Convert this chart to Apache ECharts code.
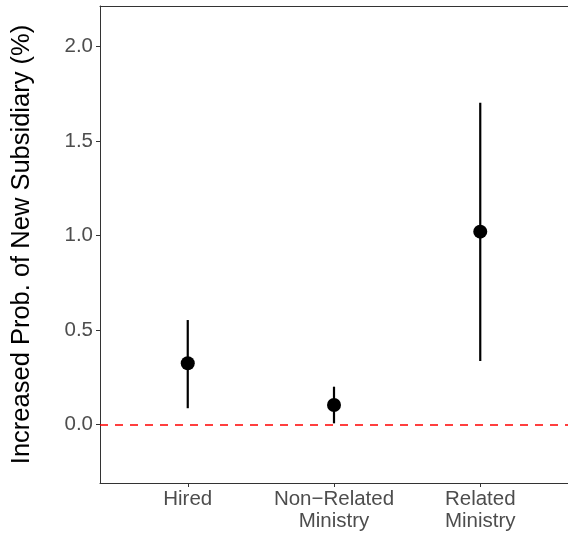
<!DOCTYPE html>
<html>
<head>
<meta charset="utf-8">
<script src="https://cdn.jsdelivr.net/npm/echarts@6/dist/echarts.min.js"></script>
<style>
html,body{margin:0;padding:0;background:#fff;}
#chart{width:568px;height:533px;}
</style>
</head>
<body>
<div id="chart"></div>
<script>
var categories = ['Hired', 'Non\u2212Related\nMinistry', 'Related\nMinistry'];
var estimates = [0.323, 0.102, 1.02];
var lowerCI = [0.085, 0.005, 0.335];
var upperCI = [0.552, 0.199, 1.703];
var yTicks = [0, 0.5, 1.0, 1.5, 2.0];
var yTitle = 'Increased Prob. of New Subsidiary (%)';

var pos = categories.map(function (c, i) { return i + 1; });
var pointData = estimates.map(function (v, i) { return [pos[i], v]; });
var barData = estimates.map(function (v, i) { return [pos[i], lowerCI[i], upperCI[i]]; });

var font = 'Liberation Sans, Arial, Helvetica, sans-serif';
var chart = echarts.init(document.getElementById('chart'), null, {renderer: 'canvas'});
chart.setOption({
  animation: false,
  backgroundColor: '#ffffff',
  grid: {left: 100, right: 0, top: 6, bottom: 50, containLabel: false},
  xAxis: [{
    type: 'value', min: 0.4, max: 3.6, position: 'bottom',
    splitLine: {show: false},
    axisLine: {show: true, onZero: false, lineStyle: {color: '#333333', width: 1}},
    axisTick: {show: true, length: 4, customValues: pos, lineStyle: {color: '#333333'}},
    axisLabel: {
      customValues: pos, color: '#4D4D4D', fontSize: 20.5, fontFamily: font,
      lineHeight: 22, align: 'center', margin: 5,
      formatter: function (v) { return categories[Math.round(v) - 1] || ''; }
    }
  }, {
    type: 'value', min: 0.4, max: 3.6, position: 'top',
    splitLine: {show: false},
    axisLine: {show: true, onZero: false, lineStyle: {color: '#333333', width: 1}},
    axisTick: {show: false}, axisLabel: {show: false}
  }],
  yAxis: {
    type: 'value', min: -0.311, max: 2.215,
    splitLine: {show: false},
    axisLine: {show: true, onZero: false, lineStyle: {color: '#333333', width: 1}},
    axisTick: {show: true, length: 4, customValues: yTicks, lineStyle: {color: '#333333'}},
    axisLabel: {
      customValues: yTicks, color: '#4D4D4D', fontSize: 20.5, fontFamily: font, margin: 7,
      formatter: function (v) { return v.toFixed(1); }
    },
    name: yTitle, nameLocation: 'middle', nameRotate: 90, nameGap: 65,
    nameTextStyle: {color: '#000000', fontSize: 25.5, fontFamily: font}
  },
  series: [{
    type: 'custom',
    data: barData,
    renderItem: function (params, api) {
      var x = api.value(0);
      var p1 = api.coord([x, api.value(1)]);
      var p2 = api.coord([x, api.value(2)]);
      return {
        type: 'line',
        shape: {x1: p1[0], y1: p1[1], x2: p2[0], y2: p2[1]},
        style: {stroke: '#000000', lineWidth: 2.2}
      };
    },
    z: 3
  }, {
    type: 'scatter',
    data: pointData,
    symbol: 'circle', symbolSize: 14,
    itemStyle: {color: '#000000', opacity: 1},
    z: 4,
    markLine: {
      silent: true, symbol: 'none', label: {show: false},
      lineStyle: {color: '#FF0000', type: [8, 7], width: 1.5, opacity: 1},
      data: [{yAxis: 0}]
    }
  }]
});
</script>
</body>
</html>
